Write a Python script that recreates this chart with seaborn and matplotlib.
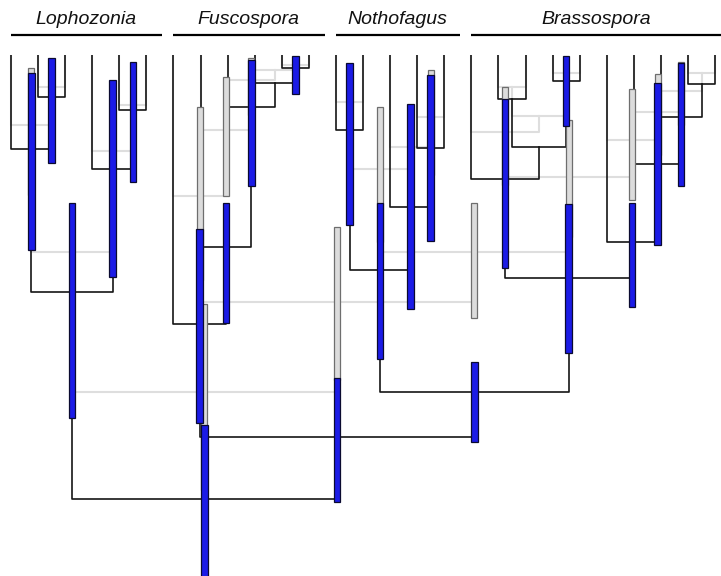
import matplotlib
matplotlib.use("Agg")
import matplotlib.pyplot as plt
import matplotlib.transforms as mtransforms
import numpy as np
import pandas as pd
import seaborn as sns

# ---- clades and tips -------------------------------------------------------
clades = ["Lophozonia", "Fuscospora", "Nothofagus", "Brassospora"]
clade_first_tip = [0, 6, 12, 17]
clade_last_tip = [5, 11, 16, 26]
n_tips = 27

# ---- tree topology: (node, left child, right child); ints are tips ---------
node_names = [
    "L_bc", "L_abc", "L_ef", "L_def", "L_crown",
    "F_k", "F_j", "F_i", "F_h", "F_crown",
    "N_ab", "N_de", "N_cde", "N_crown",
    "B_bc", "B_de", "B_bcde", "B_a",
    "B_jk", "B_ijk", "B_hijk", "B_g", "B_crown",
    "NB", "FNB", "root",
]
node_left = [1, 0, 4, 3, "L_abc",
             10, 9, 8, 7, 6,
             12, 15, 14, "N_ab",
             18, 20, "B_bc", 17,
             25, 24, 23, 22, "B_a",
             "N_crown", "F_crown", "L_crown"]
node_right = [2, "L_bc", 5, "L_ef", "L_def",
              11, "F_k", "F_j", "F_i", "F_h",
              13, 16, "N_de", "N_cde",
              19, 21, "B_de", "B_bcde",
              26, "B_jk", "B_ijk", "B_hijk", "B_g",
              "B_crown", "NB", "FNB"]

# node ages (Ma) of the dated tree
age_dated = [8.4, 18.8, 11.0, 22.8, 47.4,
             2.6, 5.6, 10.4, 38.4, 53.8,
             15.0, 18.6, 30.4, 43.0,
             8.8, 5.2, 18.4, 24.8,
             5.8, 12.4, 21.8, 37.4, 44.6,
             67.4, 76.4, 88.8]
# node ages (Ma) of the alternative tree
age_alt = [6.4, 14.0, 10.0, 19.2, 39.4,
           2.0, 3.0, 5.0, 15.0, 28.2,
           9.4, 12.4, 18.4, 22.8,
           6.4, 3.6, 12.2, 15.4,
           3.6, 7.2, 11.4, 17.0, 24.4,
           39.4, 49.4, 67.4]

# 95% HPD intervals of the dated tree (Ma)
hpd_node = ["L_bc", "L_abc", "L_ef", "L_def", "L_crown",
            "F_k", "F_i", "F_h", "F_crown",
            "N_ab", "N_de", "N_cde", "N_crown",
            "B_de", "B_a", "B_crown",
            "B_ijk", "B_hijk", "B_g",
            "NB", "FNB", "root"]
hpd_low = [0.6, 3.6, 1.4, 5.0, 29.6,
           0.2, 1.0, 29.6, 34.8,
           1.6, 4.0, 9.8, 29.6,
           0.2, 8.8, 29.8,
           1.6, 5.6, 29.6,
           61.4, 64.6, 74.0]
hpd_high = [21.6, 39.0, 25.4, 44.4, 72.6,
            7.8, 26.2, 53.6, 73.6,
            34.0, 37.2, 50.8, 60.8,
            14.2, 42.6, 59.6,
            26.2, 38.0, 50.4,
            77.4, 89.4, 112.0]

# intervals of the alternative tree (Ma)
alt_node = ["L_abc", "F_i", "F_h", "F_crown",
            "N_de", "N_crown", "B_a", "B_crown",
            "B_ijk", "B_hijk", "B_g", "NB", "FNB", "root"]
alt_low = [2.6, 0.6, 4.4, 10.4,
           3.0, 10.4, 6.4, 13.0,
           1.4, 3.8, 6.8, 29.6, 34.4, 49.8]
alt_high = [28.0, 12.0, 28.2, 45.0,
            24.0, 37.4, 26.0, 36.4,
            14.0, 20.0, 29.0, 52.6, 65.0, 87.0]

# ---- layout ----------------------------------------------------------------
children = {n: (l, r) for n, l, r in zip(node_names, node_left, node_right)}
ages_dated = dict(zip(node_names, age_dated))
ages_alt = dict(zip(node_names, age_alt))

xpos = {}


def place(n):
    if isinstance(n, int):
        return float(n)
    if n not in xpos:
        l, r = children[n]
        xpos[n] = 0.5 * (place(l) + place(r))
    return xpos[n]


for n in node_names:
    place(n)


def edge_table(ages):
    rows = []
    for n in node_names:
        for c in children[n]:
            cx = place(c)
            ca = 0.0 if isinstance(c, int) else ages[c]
            eid = f"{n}->{c}"
            rows += [(eid, 0, cx, ca), (eid, 1, cx, ages[n]), (eid, 2, xpos[n], ages[n])]
    return pd.DataFrame(rows, columns=["edge", "step", "x", "age"])


edges_alt = edge_table(ages_alt)
edges_dated = edge_table(ages_dated)

# ---- figure ----------------------------------------------------------------
sns.set_theme(style="white")
plt.rcParams["font.family"] = ["Liberation Sans", "DejaVu Sans"]

W, H = 721, 576
fig = plt.figure(figsize=(W / 100, H / 100), dpi=100)
ax = fig.add_axes([0, 0, 1, 1 - 55 / H])

sns.lineplot(data=edges_alt, x="x", y="age", units="edge", estimator=None,
             sort=False, color="#dedede", lw=1.5, ax=ax, legend=False, zorder=1)
sns.lineplot(data=edges_dated, x="x", y="age", units="edge", estimator=None,
             sort=False, color="#151515", lw=1.2, ax=ax, legend=False, zorder=2)

ax.bar([xpos[n] for n in alt_node], np.array(alt_high) - np.array(alt_low),
       bottom=alt_low, width=0.22, color="#dcdcdc", edgecolor="#6e6e6e",
       linewidth=0.9, zorder=3)
ax.bar([xpos[n] for n in hpd_node], np.array(hpd_high) - np.array(hpd_low),
       bottom=hpd_low, width=0.24, color="#1b1be6", edgecolor="#0a0a30",
       linewidth=0.9, zorder=4)

xmin, xmax = -11 / 27.08, (W - 11) / 27.08
ax.set_xlim(xmin, xmax)
ax.set_ylim((H - 55) / 5.0, 0)
ax.set_axis_off()

# clade headers
trans = mtransforms.blended_transform_factory(ax.transData, fig.transFigure)
for name, a, b in zip(clades, clade_first_tip, clade_last_tip):
    x0, x1 = a - 0.01, min(b + 0.58, xmax)
    ax.plot([x0, x1], [1 - 35 / H, 1 - 35 / H], transform=trans, color="black",
            lw=1.6, clip_on=False, solid_capstyle="butt")
    ax.text(0.5 * (x0 + x1), 1 - 24.5 / H, name, transform=trans, ha="center",
            va="baseline", fontsize=14, style="italic", color="#111111")

fig.savefig("out.png", dpi=100)
